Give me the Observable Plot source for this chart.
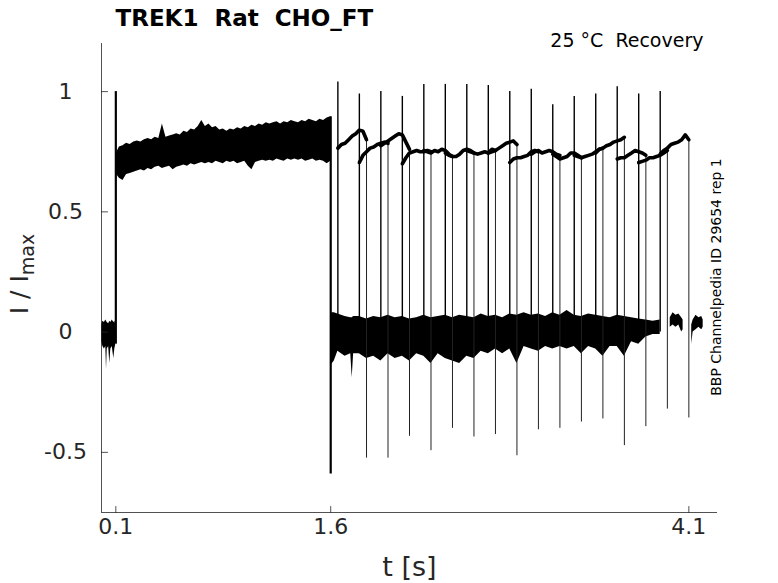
<!DOCTYPE html>
<html><head><meta charset="utf-8">
<script src="https://cdn.jsdelivr.net/npm/d3@7"></script>
<script src="https://cdn.jsdelivr.net/npm/@observablehq/plot@0.6"></script>
<style>
html,body{margin:0;padding:0;background:#fff;}
</style>
</head><body><div id="chart"></div>
<script>
// ---- text ----
const titleText = "TREK1\u00a0 Rat\u00a0 CHO_FT";
const subtitleText = "25 °C\u00a0 Recovery";
const sideText = "BBP Channelpedia ID 29654 rep 1";
const xLabel = "t [s]";
const yLabelMain = "I / I";
const yLabelSub = "max";

// ---- axes ----
const xDomain = [0, 4.3];
const yDomain = [-0.75, 1.2];
const xTicks = [0.1, 1.6, 4.1];
const xTickLabels = ["0.1", "1.6", "4.1"];
const yTicks = [-0.5, 0, 0.5, 1];
const yTickLabels = ["-0.5", "0", "0.5", "1"];

// ---- holding baseline before first pulse (envelope) ----
const preT  = [0, 0.01, 0.02, 0.03, 0.035, 0.04, 0.05, 0.058, 0.065, 0.075, 0.086, 0.093, 0.1];
const preHi = [0.03, 0.045, 0.04, 0.05, 0.045, 0.04, 0.035, 0.045, 0.04, 0.05, 0.04, 0.045, 0.03];
const preLo = [-0.04, -0.06, -0.07, -0.06, -0.155, -0.07, -0.06, -0.13, -0.07, -0.06, -0.11, -0.07, -0.05];

// ---- first (conditioning) pulse, overlapped sweeps (envelope) ----
const pulseT = [0.1,0.125,0.15,0.175,0.2,0.225,0.25,0.275,0.3,0.325,0.35,0.375,0.4,0.425,0.45,0.475,0.5,0.525,0.55,0.575,0.6,0.625,0.65,0.675,0.7,0.725,0.75,0.775,0.8,0.825,0.85,0.875,0.9,0.925,0.95,0.975,1.0,1.025,1.05,1.075,1.1,1.125,1.15,1.175,1.2,1.225,1.25,1.275,1.3,1.325,1.35,1.375,1.4,1.425,1.45,1.475,1.5,1.525,1.55,1.575,1.6];
const pulseHi = [0.74,0.77,0.775,0.785,0.78,0.79,0.795,0.79,0.80,0.805,
  0.80,0.81,0.805,0.865,0.81,0.815,0.82,0.825,0.82,0.835,
  0.83,0.845,0.84,0.855,0.88,0.855,0.865,0.85,0.855,0.84,
  0.845,0.835,0.845,0.84,0.85,0.845,0.855,0.85,0.86,0.855,
  0.865,0.86,0.87,0.865,0.87,0.875,0.865,0.875,0.87,0.88,
  0.875,0.87,0.88,0.875,0.885,0.88,0.875,0.885,0.88,0.89,0.895];
const pulseLo = [0.66,0.64,0.63,0.655,0.66,0.665,0.67,0.675,0.67,0.68,
  0.675,0.685,0.69,0.68,0.685,0.69,0.675,0.685,0.69,0.695,
  0.69,0.70,0.695,0.70,0.705,0.70,0.705,0.70,0.71,0.705,
  0.70,0.71,0.705,0.71,0.70,0.705,0.71,0.69,0.675,0.705,
  0.71,0.715,0.71,0.715,0.71,0.72,0.715,0.71,0.72,0.715,
  0.72,0.715,0.72,0.71,0.715,0.72,0.71,0.715,0.71,0.70,0.71];

// ---- baseline between pulses (envelope) ----
const baseT = [1.6,1.625,1.65,1.7,1.74,1.75,1.76,1.8,1.85,1.9,1.95,2.0,2.05,2.1,2.15,2.2,2.25,2.3,2.35,2.4,2.45,2.5,2.55,2.6,2.65,2.7,2.75,2.8,2.85,2.9,2.95,3.0,3.05,3.1,3.15,3.2,3.25,3.3,3.35,3.4,3.45,3.5,3.55,3.6,3.65,3.7,3.75,3.8,3.85,3.9];
const baseHi = [0.08,0.08,0.075,0.065,0.06,0.06,0.065,0.065,0.055,0.065,0.06,0.07,0.06,
  0.065,0.055,0.06,0.07,0.06,0.065,0.07,0.06,0.07,0.065,
  0.06,0.075,0.065,0.07,0.06,0.075,0.07,0.08,0.07,0.075,
  0.065,0.08,0.07,0.09,0.07,0.065,0.075,0.07,0.065,0.06,
  0.07,0.065,0.06,0.055,0.05,0.045,0.05];
const baseLo = [-0.14,-0.12,-0.08,-0.10,-0.09,-0.19,-0.09,-0.09,-0.11,-0.10,-0.12,-0.09,-0.11,
  -0.10,-0.12,-0.09,-0.10,-0.13,-0.09,-0.11,-0.12,-0.13,-0.10,
  -0.11,-0.08,-0.09,-0.07,-0.09,-0.07,-0.13,-0.06,-0.07,-0.08,
  -0.06,-0.07,-0.06,-0.07,-0.06,-0.09,-0.06,-0.07,-0.10,-0.06,
  -0.06,-0.10,-0.04,-0.05,-0.02,-0.01,-0.01];

// ---- baseline fragments at the end ----
const frag1T  = [3.97, 3.99, 4.01, 4.03, 4.05, 4.06];
const frag1Hi = [0.06, 0.08, 0.07, 0.075, 0.06, 0.05];
const frag1Lo = [0.02, 0.03, 0.02, 0.03, 0.0, 0.01];
const frag2T  = [4.12, 4.13, 4.15, 4.17, 4.19, 4.2];
const frag2Hi = [0.03, 0.05, 0.07, 0.06, 0.065, 0.05];
const frag2Lo = [-0.05, 0.0, 0.01, 0.02, 0.01, 0.02];

// ---- conditioning pulse edges ----
const stepT    = [0.1, 1.6];
const stepFrom = [-0.05, 0.895];
const stepTo   = [1.0, -0.59];

// ---- test pulses (one per sweep) ----
const testOn = [1.65,1.8,1.95,2.1,2.25,2.4,2.55,2.7,2.85,3.0,3.15,3.3,3.45,3.6,3.75,3.9];
const testOffsets = [0,0.025,0.05,0.075,0.1,0.125,0.15,0.175,0.2];
const testLevels = [
  [0.765,0.78,0.785,0.80,0.815,0.825,0.84,0.835,0.80],
  [0.705,0.735,0.75,0.765,0.77,0.78,0.785,0.79,0.785],
  [0.775,0.785,0.795,0.805,0.815,0.825,0.82,0.79,0.76],
  [0.70,0.725,0.745,0.75,0.755,0.75,0.75,0.755,0.75],
  [0.755,0.75,0.745,0.755,0.75,0.76,0.755,0.74,0.73],
  [0.745,0.735,0.73,0.73,0.74,0.755,0.76,0.755,0.745],
  [0.755,0.75,0.745,0.74,0.745,0.75,0.745,0.76,0.755],
  [0.745,0.75,0.755,0.765,0.775,0.785,0.79,0.795,0.78],
  [0.705,0.72,0.725,0.725,0.73,0.735,0.75,0.755,0.75],
  [0.74,0.75,0.755,0.745,0.75,0.755,0.75,0.74,0.735],
  [0.74,0.73,0.72,0.725,0.73,0.745,0.745,0.735,0.725],
  [0.735,0.73,0.725,0.73,0.735,0.74,0.75,0.76,0.765],
  [0.745,0.76,0.765,0.775,0.78,0.79,0.795,0.80,0.81],
  [0.72,0.725,0.725,0.735,0.745,0.755,0.75,0.745,0.735],
  [0.705,0.71,0.715,0.725,0.725,0.73,0.735,0.745,0.755],
  [0.74,0.755,0.765,0.78,0.785,0.79,0.80,0.82,0.80]
];
const upPeaks   = [1.04,0.99,1.0,0.98,1.03,1.03,1.03,1.025,1.0,1.01,0.945,0.98,0.99,1.02,0.99,1.0];
const testOff   = [1.85,2.0,2.15,2.3,2.45,2.6,2.75,2.9,3.05,3.2,3.35,3.5,3.65,3.8,3.95,4.1];
const downPeaks = [-0.524,-0.524,-0.433,-0.493,-0.40,-0.436,-0.426,-0.514,-0.406,-0.40,-0.374,-0.361,-0.472,-0.393,-0.32,-0.357];

// ---- build tables ----
const env = (T, H, L, g) => T.map((t, i) => ({t, hi: H[i], lo: L[i], g}));
const pre = env(preT, preHi, preLo, "pre");
const pulse = env(pulseT, pulseHi, pulseLo, "pulse");
const base = env(baseT, baseHi, baseLo, "base");
const frags = env(frag1T, frag1Hi, frag1Lo, "f1").concat(env(frag2T, frag2Hi, frag2Lo, "f2"));
const steps = stepT.map((t, i) => ({t, from: stepFrom[i], to: stepTo[i]}));
const sweeps = testOn.flatMap((on, k) => testOffsets.map((o, j) => ({k, t: on + o, v: testLevels[k][j]})));
const ups = testOn.map((t, k) => ({t, from: 0, to: upPeaks[k]}));
const downs = testOff.map((t, k) => ({t, from: testLevels[k][testLevels[k].length - 1], to: downPeaks[k]}));

const axisColor = "#262626";
const tickUp = {draw(ctx, l) { ctx.moveTo(0, 0); ctx.lineTo(0, -l); }};
const tickRight = {draw(ctx, l) { ctx.moveTo(0, 0); ctx.lineTo(l, 0); }};

const chart = Plot.plot({
  width: 778, height: 583,
  marginLeft: 101, marginRight: 61, marginTop: 43, marginBottom: 71,
  x: {domain: xDomain},
  y: {domain: yDomain},
  style: {fontFamily: "'DejaVu Sans', sans-serif", color: axisColor, background: "white"},
  marks: [
    Plot.areaY(pre, {x: "t", y1: "lo", y2: "hi", fill: "black"}),
    Plot.areaY(pulse, {x: "t", y1: "lo", y2: "hi", fill: "black"}),
    Plot.areaY(base, {x: "t", y1: "lo", y2: "hi", fill: "black"}),
    Plot.areaY(frags, {x: "t", y1: "lo", y2: "hi", z: "g", fill: "black"}),
    Plot.ruleX(downs, {x: "t", y1: "from", y2: "to", stroke: "#222", strokeWidth: 1}),
    Plot.ruleX(ups, {x: "t", y1: "from", y2: "to", stroke: "black", strokeWidth: 1.4}),
    Plot.ruleX(steps, {x: "t", y1: "from", y2: "to", stroke: "black", strokeWidth: 2.2}),
    Plot.line(sweeps, {x: "t", y: "v", z: "k", stroke: "black", strokeWidth: 3.6}),
    Plot.ruleX([xDomain[0]], {stroke: axisColor, strokeWidth: 0.8}),
    Plot.ruleY([yDomain[0]], {stroke: axisColor, strokeWidth: 0.8}),
    Plot.vector(xTicks, {x: d => d, frameAnchor: "bottom", length: 6, shape: tickUp, anchor: "start", stroke: axisColor, strokeWidth: 0.8}),
    Plot.vector(yTicks, {y: d => d, frameAnchor: "left", length: 6, shape: tickRight, anchor: "start", stroke: axisColor, strokeWidth: 0.8}),
    Plot.axisX(xTicks, {tickSize: 0, tickPadding: 6, fontSize: 22, label: null, tickFormat: d => xTickLabels[xTicks.indexOf(d)]}),
    Plot.axisY(yTicks, {tickSize: 0, tickPadding: 36, textAnchor: "middle", fontSize: 22, label: null, tickFormat: d => yTickLabels[yTicks.indexOf(d)]}),
    Plot.text([titleText], {text: d => d, frameAnchor: "top-left", dx: 14, dy: -25, fontSize: 23, fontWeight: "bold", textAnchor: "start", lineAnchor: "middle", fill: "black"}),
    Plot.text([subtitleText], {text: d => d, frameAnchor: "top-right", dx: -14, dy: -3, fontSize: 19, textAnchor: "end", lineAnchor: "middle", fill: "black"}),
    Plot.text([sideText], {text: d => d, frameAnchor: "right", dx: -1, dy: -1, rotate: -90, fontSize: 14, textAnchor: "middle", lineAnchor: "middle", fill: "black"}),
    Plot.text([xLabel], {text: d => d, frameAnchor: "bottom", dy: 55, fontSize: 27, textAnchor: "middle", lineAnchor: "middle", fill: axisColor}),
    Plot.text([yLabelMain], {text: d => d, frameAnchor: "left", dx: -82, dy: -4, rotate: -90, fontSize: 25, textAnchor: "middle", lineAnchor: "middle", fill: axisColor})
  ]
});

chart.querySelectorAll("text").forEach(t => {
  if (t.textContent === yLabelMain) {
    const ts = document.createElementNS("http://www.w3.org/2000/svg", "tspan");
    ts.setAttribute("font-size", "19");
    ts.setAttribute("dy", "0.35em");
    ts.textContent = yLabelSub;
    t.appendChild(ts);
  }
});

document.getElementById("chart").appendChild(chart);
</script>
</body></html>
